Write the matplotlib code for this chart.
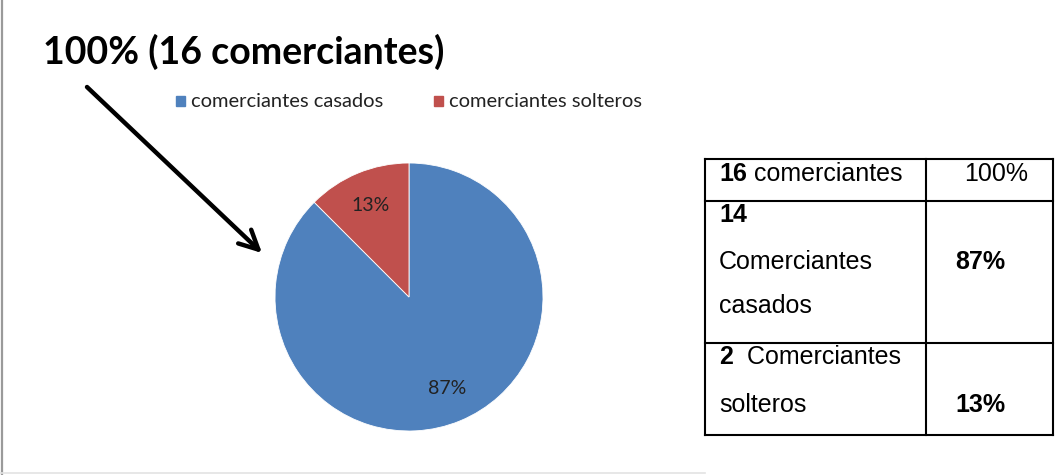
import matplotlib
matplotlib.use('Agg')
from matplotlib import pyplot as plt

# data
categorias = ['comerciantes casados', 'comerciantes solteros']
cantidades = [14, 2]
etiquetas_pct = ['87%', '13%']
colores = ['#4F81BD', '#C0504D']
titulo = '100% (16 comerciantes)'

# table contents
tabla_total = ('16', ' comerciantes', '100%')
tabla_casados = ('14', 'Comerciantes', 'casados', '87%')
tabla_solteros = ('2', '  Comerciantes', 'solteros', '13%')

W, H = 1055, 475
fig = plt.figure(figsize=(W / 100, H / 100), dpi=100)
fig.patch.set_facecolor('white')

# overlay axes in pixel coordinates (for frame, title, arrow, table)
bg = fig.add_axes([0, 0, 1, 1])
bg.set_xlim(0, W)
bg.set_ylim(H, 0)
bg.axis('off')

# chart frame
bg.plot([1.5, 1.5], [0, 474], color='#9a9a9a', lw=1.6)
bg.plot([0, 705], [473, 473], color='#e3e3e3', lw=1.2)

# title
bg.text(43, 52, titulo, fontsize=27, fontweight='bold', family='Lato',
        ha='left', va='center', color='black')

# arrow
bg.annotate('', xy=(262, 253), xytext=(87, 87),
            arrowprops=dict(arrowstyle='->', lw=3.2, color='black',
                            mutation_scale=34, shrinkA=0, shrinkB=0))

# legend
lx = [176, 434]
for i, (cat, col) in enumerate(zip(categorias, colores)):
    bg.add_patch(plt.Rectangle((lx[i], 96), 9, 10, color=col))
    bg.text(lx[i] + 15, 101.5, cat, fontsize=14.5, family='Lato',
            ha='left', va='center', color='#222222')

# pie
ax = fig.add_axes([275 / W, (H - 431) / H, 268 / W, 268 / H])
wedges, textos = ax.pie(cantidades, colors=colores, startangle=90,
                        counterclock=False, labels=etiquetas_pct,
                        labeldistance=0.74,
                        wedgeprops=dict(edgecolor='white', linewidth=0.6),
                        textprops=dict(fontsize=14, family='Lato',
                                       color='#222222'))
for t in textos:
    t.set_ha('center')
    t.set_va('center')
ax.set_xlim(-1, 1)
ax.set_ylim(-1, 1)
ax.set_aspect('auto')

# table
x0, x1, x2 = 705, 926, 1053
y_lines = [159, 201, 343, 435]
for y in y_lines:
    bg.plot([x0, x2], [y, y], color='black', lw=1.5, solid_capstyle='projecting')
for x in [x0, x1, x2]:
    bg.plot([x, x], [y_lines[0], y_lines[-1]], color='black', lw=1.5)

tf = dict(fontsize=18, family='Liberation Sans', color='black', va='center')

t = bg.text(719, 174, tabla_total[0], fontweight='bold', ha='left', **tf)
bg.annotate(tabla_total[1], xy=(1, 0.5), xycoords=t, ha='left', **tf)
bg.text(996, 174, tabla_total[2], ha='center', **tf)

bg.text(719, 215, tabla_casados[0], fontweight='bold', ha='left', **tf)
bg.text(719, 262, tabla_casados[1], ha='left', **tf)
bg.text(719, 306, tabla_casados[2], ha='left', **tf)
bg.text(980, 262, tabla_casados[3], fontweight='bold', ha='center', **tf)

t = bg.text(719, 357, tabla_solteros[0], fontweight='bold', ha='left', **tf)
bg.annotate(tabla_solteros[1], xy=(1, 0.5), xycoords=t, ha='left', **tf)
bg.text(719, 405, tabla_solteros[2], ha='left', **tf)
bg.text(980, 405, tabla_solteros[3], fontweight='bold', ha='center', **tf)

fig.savefig('out.png', dpi=100, facecolor='white')
